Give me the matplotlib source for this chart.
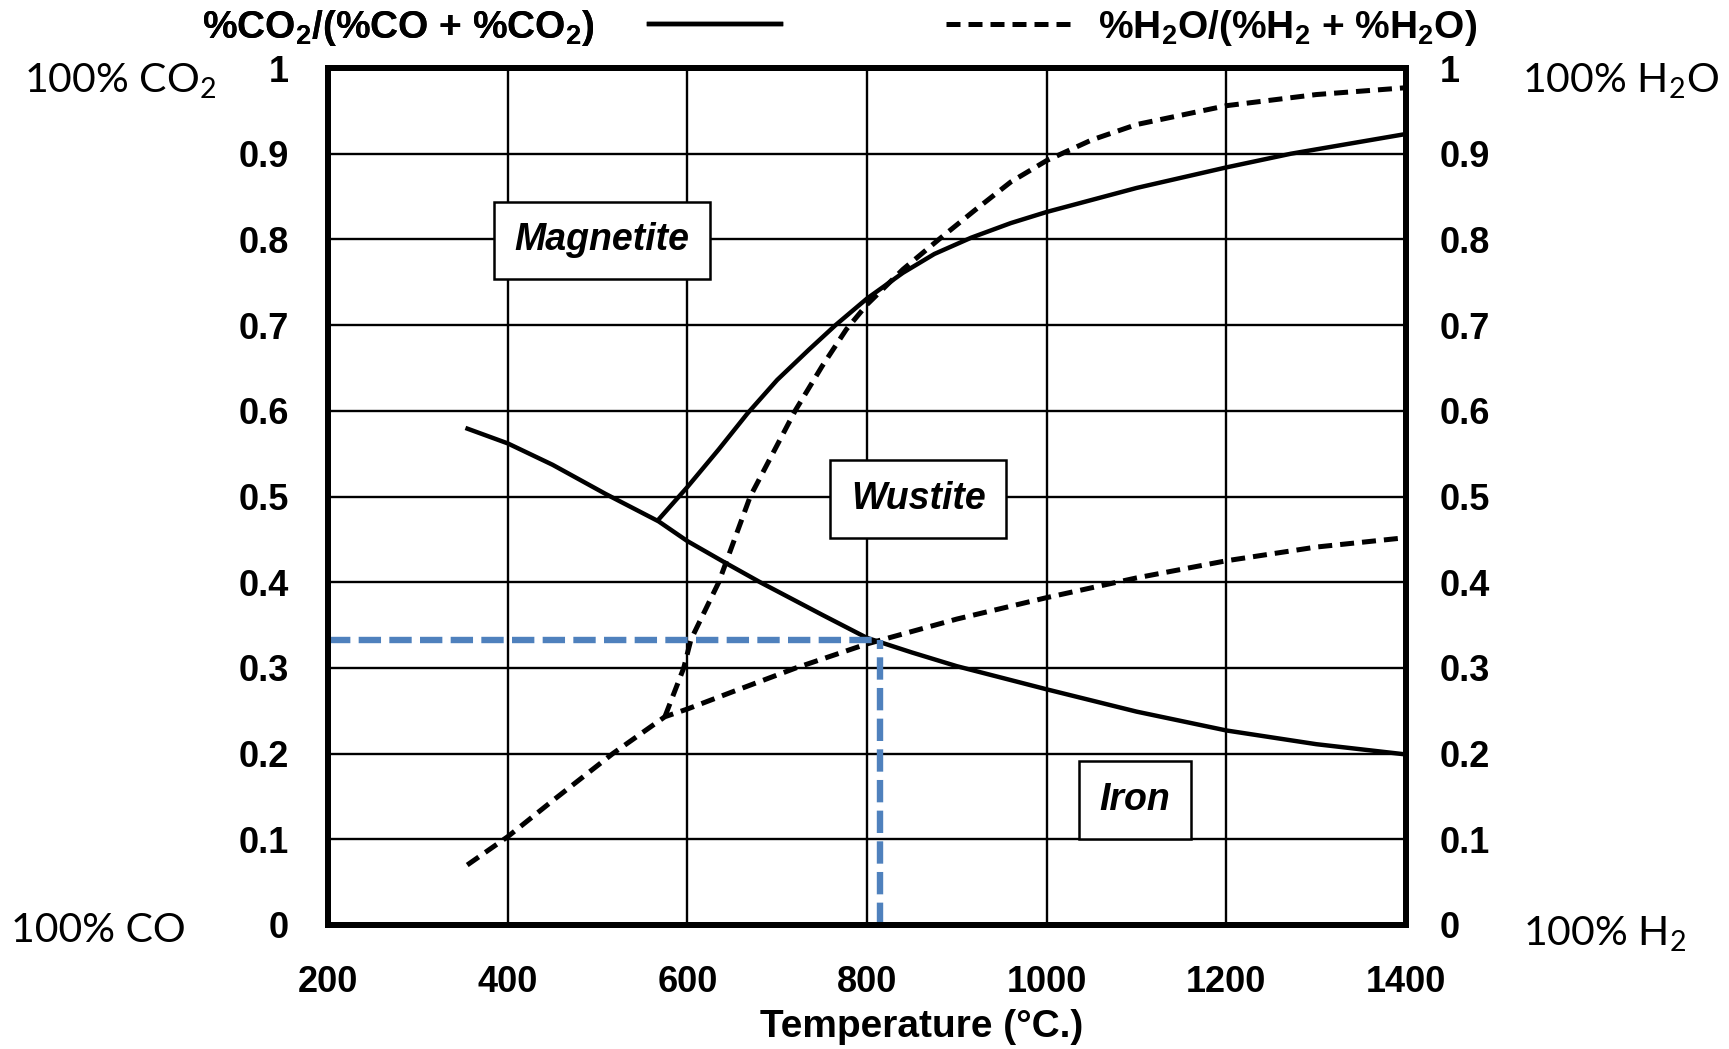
import matplotlib
matplotlib.use("Agg")
import matplotlib.pyplot as plt
from matplotlib.lines import Line2D

# axis ticks
temp_ticks = [200, 400, 600, 800, 1000, 1200, 1400]
ratio_ticks = [0, 0.1, 0.2, 0.3, 0.4, 0.5, 0.6, 0.7, 0.8, 0.9, 1]
ratio_labels = ['0', '0.1', '0.2', '0.3', '0.4', '0.5', '0.6', '0.7', '0.8', '0.9', '1']

# CO2/(CO+CO2): magnetite / wustite boundary
co2_mw_T = [567, 600, 635, 667, 700, 735, 765, 800, 840, 875, 916, 960, 1000, 1100, 1200, 1272, 1400]
co2_mw = [0.472, 0.511, 0.555, 0.597, 0.636, 0.671, 0.700, 0.731, 0.761, 0.783, 0.802, 0.819, 0.832, 0.860, 0.884, 0.900, 0.923]

# CO2/(CO+CO2): magnetite-wustite / iron boundary
co2_wf_T = [353, 400, 450, 509, 568, 600, 640, 681, 750, 800, 850, 900, 1000, 1100, 1200, 1300, 1400]
co2_wf = [0.580, 0.562, 0.537, 0.503, 0.471, 0.448, 0.424, 0.400, 0.362, 0.335, 0.318, 0.302, 0.275, 0.249, 0.227, 0.211, 0.199]

# H2O/(H2+H2O): lower boundary (to iron)
h2o_low_T = [355, 400, 450, 517, 575, 600, 650, 721, 800, 900, 1000, 1100, 1200, 1300, 1400]
h2o_low = [0.070, 0.103, 0.145, 0.200, 0.243, 0.252, 0.272, 0.300, 0.328, 0.357, 0.382, 0.405, 0.425, 0.441, 0.452]

# H2O/(H2+H2O): magnetite / wustite boundary
h2o_up_T = [575, 596, 604, 635, 670, 720, 750, 777, 800, 840, 880, 920, 960, 1000, 1050, 1100, 1200, 1300, 1400]
h2o_up = [0.243, 0.300, 0.333, 0.400, 0.500, 0.600, 0.652, 0.695, 0.724, 0.765, 0.800, 0.834, 0.867, 0.892, 0.916, 0.934, 0.956, 0.969, 0.977]

# equilibrium point marked in blue
eq_temp = 815
eq_ratio = 0.333

W, H = 1729, 1049
plt.rcParams['font.family'] = 'Liberation Sans'

fig = plt.figure(figsize=(W / 100, H / 100), dpi=100)
ax = fig.add_axes([328 / W, 1 - 925 / H, (1406 - 328) / W, (925 - 68) / H])

ax.set_xlim(200, 1400)
ax.set_ylim(0, 1)
ax.set_xticks(temp_ticks)
ax.set_yticks(ratio_ticks)
ax.set_yticklabels(ratio_labels)
ax.grid(True, color='black', lw=1.7)
ax.set_axisbelow(True)
for s in ax.spines.values():
    s.set_linewidth(4.3)
ax.tick_params(axis='x', length=0, pad=29, labelsize=26)
ax.tick_params(axis='y', length=0, pad=28, labelsize=26)
for lab in ax.get_xticklabels() + ax.get_yticklabels():
    lab.set_fontweight('bold')

ax2 = ax.twinx()
ax2.set_ylim(0, 1)
ax2.set_yticks(ratio_ticks)
ax2.set_yticklabels(ratio_labels, fontweight='bold')
ax2.tick_params(axis='y', length=0, pad=24, labelsize=26)
for s in ax2.spines.values():
    s.set_linewidth(4.3)

solid_kw = dict(color='black', lw=3.2, solid_capstyle='butt', solid_joinstyle='round', zorder=3)
dash_kw = dict(color='black', lw=3.6, linestyle=(0, (2.8, 1.6)), zorder=3)

ax.plot(co2_mw_T, co2_mw, **solid_kw)
ax.plot(co2_wf_T, co2_wf, **solid_kw)
ax.plot(h2o_low_T, h2o_low, **dash_kw)
ax.plot(h2o_up_T, h2o_up, **dash_kw)

blue = '#4F81BD'
ax.hlines(eq_ratio, 200, eq_temp, color=blue, lw=4.6, linestyles=[(0, (3.5, 1.3))], zorder=4)
ax.vlines(eq_temp, 0, eq_ratio, color=blue, lw=4.6, linestyles=[(0, (3.5, 1.3))], zorder=4)

box = dict(boxstyle='square,pad=0.55', fc='white', ec='black', lw=1.8)
for name, tx, ty in [('Magnetite', 505, 0.799), ('Wustite', 857, 0.497), ('Iron', 1098, 0.146)]:
    ax.text(tx, ty, name, ha='center', va='center', fontsize=27, fontweight='bold',
            fontstyle='italic', bbox=box, zorder=5)

fig.text(922 / W, 1 - 1027 / H, 'Temperature (°C.)', ha='center', va='center',
         fontsize=28, fontweight='bold')

# top legend, two parts
leg_prop = {'family': 'Liberation Sans', 'weight': 'bold', 'size': 28}
h1 = Line2D([], [], color='black', lw=3.2)
h2 = Line2D([], [], color='black', lw=3.6, linestyle=(0, (2.8, 1.6)))
leg1 = fig.legend([h1], [r'%CO$_\mathregular{2}$/(%CO + %CO$_\mathregular{2}$)'],
                  loc='center left', bbox_to_anchor=(202 / W, 1 - 28 / H), markerfirst=False,
                  frameon=False, prop=leg_prop, handlelength=3.4, handletextpad=1.4,
                  borderpad=0, borderaxespad=0)
fig.add_artist(leg1)
fig.legend([h2], [r'%H$_\mathregular{2}$O/(%H$_\mathregular{2}$ + %H$_\mathregular{2}$O)'],
           loc='center left', bbox_to_anchor=(946 / W, 1 - 28 / H), markerfirst=True,
           frameon=False, prop=leg_prop, handlelength=3.3, handletextpad=0.6,
           borderpad=0, borderaxespad=0)

corner = dict(family=['Lato', 'DejaVu Sans'], fontsize=29.5, va='baseline', ha='left')
fig.text(24 / W, 1 - 92 / H, r'100% CO$_\mathregular{2}$', **corner)
fig.text(1522 / W, 1 - 92 / H, r'100% H$_\mathregular{2}$O', **corner)
fig.text(11 / W, 1 - 942 / H, '100% CO', **corner)
fig.text(1523 / W, 1 - 945 / H, r'100% H$_\mathregular{2}$', **corner)

fig.savefig('out.png', dpi=100)
